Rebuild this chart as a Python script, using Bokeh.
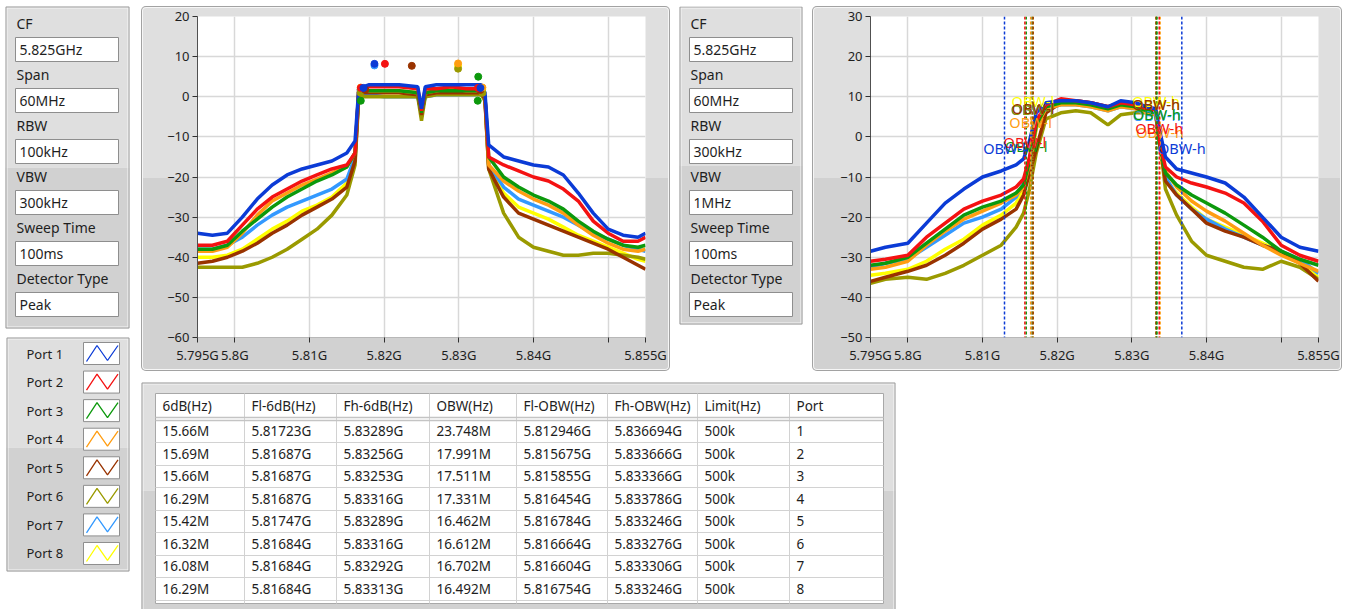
from bokeh.plotting import figure
from bokeh.models import Range1d, FixedTicker, Spacer, Span
from bokeh.layouts import row, column
from bokeh.core.properties import value
from bokeh.embed import file_html
from bokeh.resources import INLINE

FONT = "Noto Sans"
TXT = "#1e1e1e"
LIGHT = "#dfdfdf"
DARK = "#d1d1d1"

# ---------------- data ----------------
port_names = ["Port 1", "Port 2", "Port 3", "Port 4", "Port 5", "Port 6", "Port 7", "Port 8"]
port_colors = ["#0b3bd6", "#f41212", "#0c990c", "#ff9d12", "#993300", "#9a9a00", "#3399ff", "#ffff00"]

param_labels = ["CF", "Span", "RBW", "VBW", "Sweep Time", "Detector Type"]
params_left = ["5.825GHz", "60MHz", "100kHz", "300kHz", "100ms", "Peak"]
params_right = ["5.825GHz", "60MHz", "300kHz", "1MHz", "100ms", "Peak"]

xtick_vals = [5.795, 5.80, 5.81, 5.82, 5.83, 5.84, 5.85, 5.855]
xtick_labels = ["5.795G", "5.8G", "5.81G", "5.82G", "5.83G", "5.84G", "", "5.855G"]
xgrid_vals = [5.80, 5.81, 5.82, 5.83, 5.84, 5.85]
chart1_yticks = [-60, -50, -40, -30, -20, -10, 0, 10, 20]
chart2_yticks = [-50, -40, -30, -20, -10, 0, 10, 20, 30]

# chart 1 (RBW 100kHz) traces, GHz / dBm
f1 = [5.795, 5.797, 5.799, 5.801, 5.803, 5.805, 5.807, 5.809, 5.811, 5.813, 5.815, 5.8161,
      5.8166, 5.818, 5.820, 5.822, 5.8245, 5.8250, 5.8255, 5.827, 5.829, 5.831, 5.833, 5.8335,
      5.8340, 5.836, 5.838, 5.840, 5.842, 5.844, 5.846, 5.848, 5.850, 5.852, 5.854, 5.855]
c1_port1 = [-34, -34.5, -34, -30, -25.5, -22, -19.5, -18, -17, -16, -14, -11,
            2, 3, 3, 3, 2.5, -3, 2.5, 3, 3, 3, 3, 1,
            -12, -15, -16, -17, -17.5, -19.5, -24, -29, -33, -34.5, -35, -34]
c1_port2 = [-37, -37, -36, -32, -28, -25, -23, -21, -19.5, -18, -17, -14,
            2, 2.5, 2.5, 2.5, 2, -3.5, 2, 2, 2.5, 2, 2, 0,
            -15, -17, -18.5, -20, -21, -23, -26, -31, -34, -36, -36, -35]
c1_port3 = [-38, -38, -37, -33.5, -30.5, -27.5, -25, -23, -21, -19.5, -17.5, -14,
            1.5, 1.5, 1.5, 1.5, 1, -4, 1, 1.5, 1.5, 1.5, 1.5, 0,
            -15, -20, -22.5, -24.5, -26, -28, -31, -33.5, -35.5, -37, -37.5, -37]
c1_port4 = [-38.5, -38.5, -37.5, -34, -29.5, -26, -24, -22, -20.5, -19, -17.5, -14,
            1.5, 1.5, 1.5, 1.5, 1, -4, 1, 1.5, 2, 1.5, 1.5, 0,
            -17, -21, -23.5, -25.5, -27, -29, -32, -34.5, -36.5, -38, -38.5, -38]
c1_port5 = [-41.5, -41, -40, -38.5, -36.5, -34, -32, -29.5, -27.5, -25.5, -22.5, -16,
            1, 1, 1, 1, 0.5, -4.5, 0.5, 1, 1, 1, 1, -0.5,
            -18, -25, -29, -30.5, -32, -33.5, -35, -36.5, -38, -40, -42, -43]
c1_port6 = [-42.5, -42.5, -42.5, -42.5, -41.5, -40, -38, -35.5, -33, -29.5, -24.5, -17,
            0, 0, 0, 0, 0, -6, 0, 0.5, 0.5, 0.5, 0.5, -1,
            -18, -29, -35, -37.5, -38.5, -39.5, -39.5, -39, -39, -39.5, -40, -40.5]
c1_port7 = [-38, -38, -37, -35, -32, -29.5, -27.5, -26, -24.5, -23, -20.5, -15,
            0.5, 0.5, 0, 0, 0, -4.5, 0, 0.5, 0.5, 0.5, 0.5, -0.5,
            -17, -22.5, -25.5, -27, -28.5, -30, -32, -34, -35.5, -37, -38, -38.5]
c1_port8 = [-40, -40, -39.5, -38, -35.5, -33, -31, -28.5, -27, -25, -21.5, -15,
            1, 1, 1, 1, 0.5, -4.5, 0.5, 1, 1, 1, 1, 0,
            -17.5, -24, -27.5, -29, -30.5, -32.5, -34.5, -36, -37.5, -39, -40.5, -41]

# chart 1 peak markers
peak_freq = [5.8187, 5.8201, 5.8326, 5.8299, 5.8237, 5.8299, 5.8187, 5.8299]
peak_level = [8.2, 8.2, 5.0, 8.3, 7.7, 7.0, 7.8, 7.8]

# chart 2 (RBW 300kHz) traces
f2 = [5.795, 5.797, 5.800, 5.8025, 5.805, 5.8075, 5.810, 5.8125, 5.8145, 5.8155, 5.8163, 5.8172,
      5.8185, 5.8205, 5.8225, 5.8245, 5.8268, 5.8285, 5.8305, 5.832, 5.8332, 5.8338, 5.8345, 5.836,
      5.838, 5.840, 5.8425, 5.845, 5.8475, 5.850, 5.8525, 5.855]
c2_port1 = [-28.5, -27.5, -26.5, -21.5, -16.5, -13, -10, -8.5, -7, -5.5, -1, 6,
            8.5, 9, 9, 8.5, 7.5, 9, 8.5, 7.5, 7, 1, -5, -8,
            -9, -10, -11.5, -15, -20, -25, -27.5, -28.5]
c2_port2 = [-31, -30.5, -29.5, -25, -21.5, -18, -16, -14.5, -12.5, -10.5, -5, 4,
            8, 9.5, 9, 8.5, 7.5, 8.5, 8, 7, 6.5, -2, -7.5, -10,
            -11.5, -12.5, -14, -16.5, -21, -27, -29.5, -31]
c2_port3 = [-32, -31.5, -30, -26.5, -23, -19.5, -17.5, -16, -14, -12, -6, 3,
            7.5, 8.5, 8.5, 8, 7, 8, 7.5, 6.5, 6, -3, -9, -12,
            -14.5, -16.5, -19, -22, -25, -28.5, -30.5, -32]
c2_port4 = [-33, -32.5, -31, -27, -23.5, -20.5, -18.5, -16.5, -14.5, -12.5, -6.5, 2.5,
            7, 8, 8, 7.5, 6.5, 7.5, 7, 6, 5.5, -3, -8.5, -12.5,
            -16, -18.5, -21, -24, -27, -29.5, -31.5, -33.5]
c2_port5 = [-36, -35, -33.5, -32, -29.5, -26.5, -23, -20.5, -18, -14.5, -9, -3,
            6, 8.5, 9, 8.5, 7.5, 8, 8, 7, 6.5, -2, -11, -14.5,
            -18, -21.5, -23.5, -25, -27, -28.5, -31.5, -36]
c2_port6 = [-36.5, -35.5, -35, -35.5, -34, -32, -29.5, -27, -22.5, -19, -13, -4,
            4.5, 6, 6.5, 6, 3, 5.5, 6, 6, 5.5, -2, -13, -19.5,
            -26, -29.5, -31, -32.5, -33, -31, -32.5, -35.5]
c2_port7 = [-32.5, -31.5, -30.5, -27.5, -24.5, -21.5, -20, -18, -15, -11.5, -5.5, 2.5,
            7, 8, 8, 7.5, 6.5, 7.5, 7, 6, 5.5, -3, -10, -14.5,
            -18, -20.5, -23, -25, -27, -28.5, -30.5, -34]
c2_port8 = [-34.5, -34, -33, -31, -28, -25.5, -22, -19.5, -16.5, -13, -7.5, 2,
            7, 8.5, 8.5, 8, 7, 8, 7.5, 7, 6.5, -2.5, -11, -14,
            -17.5, -20.5, -22.5, -24.5, -26.5, -28.5, -31, -35]

# OBW label heights on chart 2 (dBm)
obw_l_level = [-2.7, -1.4, -2.2, 3.8, 7.3, 7.0, 7.0, 9.0]
obw_h_level = [-2.7, 2.1, 5.8, 1.1, 8.3, 8.3, 5.5, 9.0]

# results table
table_headers = ["6dB(Hz)", "Fl-6dB(Hz)", "Fh-6dB(Hz)", "OBW(Hz)", "Fl-OBW(Hz)", "Fh-OBW(Hz)", "Limit(Hz)", "Port"]
bw6 = ["15.66M", "15.69M", "15.66M", "16.29M", "15.42M", "16.32M", "16.08M", "16.29M"]
fl6 = ["5.81723G", "5.81687G", "5.81687G", "5.81687G", "5.81747G", "5.81684G", "5.81684G", "5.81684G"]
fh6 = ["5.83289G", "5.83256G", "5.83253G", "5.83316G", "5.83289G", "5.83316G", "5.83292G", "5.83313G"]
obw = ["23.748M", "17.991M", "17.511M", "17.331M", "16.462M", "16.612M", "16.702M", "16.492M"]
fl_obw = ["5.812946G", "5.815675G", "5.815855G", "5.816454G", "5.816784G", "5.816664G", "5.816604G", "5.816754G"]
fh_obw = ["5.836694G", "5.833666G", "5.833366G", "5.833786G", "5.833246G", "5.833276G", "5.833306G", "5.833246G"]
limit = ["500k"] * 8
port_no = ["1", "2", "3", "4", "5", "6", "7", "8"]

c1_series = [c1_port1, c1_port2, c1_port3, c1_port4, c1_port5, c1_port6, c1_port7, c1_port8]
c2_series = [c2_port1, c2_port2, c2_port3, c2_port4, c2_port5, c2_port6, c2_port7, c2_port8]
ghz = lambda s: float(s[:-1])


# ---------------- helpers ----------------
def canvas(w, h, x0, y0):
    p = figure(width=w, height=h, x_range=Range1d(x0, x0 + w), y_range=Range1d(y0 + h, y0),
               x_axis_location=None, y_axis_location=None, toolbar_location=None,
               output_backend="svg", min_border=0, outline_line_color=None,
               background_fill_color="white", border_fill_color="white")
    p.grid.visible = False
    return p


def panel(p, x0, x1, y0, y1, ys):
    p.quad(left=[x0], right=[x1], top=[y0], bottom=[ys], fill_color=LIGHT, line_color=None)
    p.quad(left=[x0], right=[x1], top=[ys], bottom=[y1], fill_color=DARK, line_color=None)
    p.quad(left=[x0 + 1.5], right=[x1 - 1.5], top=[y0 + 1.5], bottom=[y1 - 1.5],
           fill_color=None, line_color="#f6f6f6", line_width=1)
    p.quad(left=[x0 + 0.5], right=[x1 - 0.5], top=[y0 + 0.5], bottom=[y1 - 0.5],
           fill_color=None, line_color="#a2a2a2", line_width=1)


def params(p, x0, y0, x1, y1, values):
    panel(p, x0, x1, y0, y1, (y0 + y1) / 2)
    bx0, bx1 = x0 + 10, x0 + 113
    for i, (lab, val) in enumerate(zip(param_labels, values)):
        ty = y0 + 17 + 51 * i
        p.text(x=[x0 + 11], y=[ty], text=[lab], text_font=value(FONT), text_font_size="14px",
               text_baseline="middle", text_color=TXT)
        p.quad(left=[bx0], right=[bx1], top=[ty + 14], bottom=[ty + 38], fill_color="white",
               line_color="#8e8e8e", line_width=1)
        p.text(x=[bx0 + 4], y=[ty + 26], text=[val], text_font=value(FONT), text_font_size="14px",
               text_baseline="middle", text_color=TXT)


frame_css = {
    "background": "linear-gradient(to bottom, %s 0px, %s 172px, %s 172px, %s 100%%)" % (LIGHT, LIGHT, DARK, DARK),
    "border-radius": "5px",
    "box-shadow": "inset 0 0 0 1px #a2a2a2, inset 0 0 0 2px #f6f6f6",
}


def chart(width, lb, rb, y0, y1, yticks):
    p = figure(width=width, height=365, x_range=Range1d(5.795, 5.855), y_range=Range1d(y0, y1),
               toolbar_location=None, output_backend="svg",
               min_border_left=lb, min_border_right=rb, min_border_top=10, min_border_bottom=34,
               background_fill_color="white", border_fill_alpha=0, outline_line_color=None,
               styles=frame_css)
    p.xaxis.ticker = FixedTicker(ticks=xtick_vals)
    p.xaxis.major_label_overrides = dict(zip(xtick_vals, xtick_labels))
    p.yaxis.ticker = FixedTicker(ticks=yticks)
    p.xgrid.ticker = FixedTicker(ticks=xgrid_vals)
    p.ygrid.ticker = FixedTicker(ticks=yticks)
    p.grid.grid_line_color = "#d8d8d8"
    p.grid.grid_line_width = 1.5
    p.axis.major_label_text_font = FONT
    p.axis.major_label_text_font_size = "13px"
    p.axis.major_label_text_color = TXT
    p.axis.major_tick_in = 0
    p.axis.major_tick_out = 5
    p.axis.major_tick_line_color = "#303030"
    p.axis.minor_tick_line_color = None
    p.axis.major_label_standoff = 3
    p.xaxis.axis_line_color = "#b8b8b8"
    p.yaxis.axis_line_color = "#505050"
    return p


# ---------------- left column (settings + legend) ----------------
L = canvas(135, 609, 0, 0)
params(L, 5, 6, 129, 328, params_left)
panel(L, 6, 129, 337, 571, 447)
for i, (name, col) in enumerate(zip(port_names, port_colors)):
    cy = 353 + 28.57 * i
    L.text(x=[26], y=[cy], text=[name], text_font=value(FONT), text_font_size="13px",
           text_baseline="middle", text_color=TXT)
    L.quad(left=[83], right=[119], top=[cy - 11], bottom=[cy + 11], fill_color="white",
           line_color="#8e8e8e", line_width=1)
    L.line(x=[86, 96.5, 107, 117.5], y=[cy + 8, cy - 8, cy + 7, cy - 8], line_color=col, line_width=1.3)

# ---------------- chart 1 ----------------
c1 = chart(529, 56, 25, -60, 20, chart1_yticks)
for i in reversed(range(8)):
    c1.line(f1, c1_series[i], line_color=port_colors[i], line_width=3.5)
for i in reversed(range(8)):
    c1.scatter([peak_freq[i]], [peak_level[i]], size=7, color=port_colors[i])
    c1.scatter([ghz(fl6[i]), ghz(fh6[i])], [peak_level[i] - 6] * 2, size=7, color=port_colors[i])

# ---------------- settings panel 2 ----------------
P2 = canvas(142, 365, 670, 6)
params(P2, 679, 6, 802, 324, params_right)

# ---------------- chart 2 ----------------
c2 = chart(530, 58, 24, -50, 30, chart2_yticks)
for i in reversed(range(8)):
    c2.line(f2, c2_series[i], line_color=port_colors[i], line_width=3.5)
for i in reversed(range(8)):
    for f in (ghz(fl_obw[i]), ghz(fh_obw[i])):
        c2.add_layout(Span(location=f, dimension="height", line_color=port_colors[i],
                           line_dash="3 2", line_width=1.5))
for i in reversed(range(8)):
    c2.text(x=[ghz(fl_obw[i]), ghz(fh_obw[i])], y=[obw_l_level[i], obw_h_level[i]],
            text=["OBW-l", "OBW-h"], text_font=value(FONT), text_font_size="14.5px",
            text_align="center", text_baseline="middle", text_color=port_colors[i], level="overlay")

# ---------------- table ----------------
T = canvas(1216, 238, 135, 371)
panel(T, 141, 895, 382, 640, 490)
col_left = [155, 244, 336, 429, 516, 607, 697, 789]
T.quad(left=[155], right=[883], top=[393], bottom=[603], fill_color="white", line_color="#a8a8a8")
T.segment(x0=col_left[1:], y0=[393] * 7, x1=col_left[1:], y1=[603] * 7, line_color="#d2d2d2", line_width=1)
row_lines = [442, 465, 487, 510, 532, 555, 577, 600]
T.segment(x0=[155] * 8, y0=row_lines, x1=[883] * 8, y1=row_lines, line_color="#d2d2d2", line_width=1)
T.segment(x0=[155, 155], y0=[417, 420], x1=[883, 883], y1=[417, 420], line_color="#c4c4c4", line_width=1.5)
T.text(x=[c + 7 for c in col_left], y=[405] * 8, text=table_headers, text_font=value(FONT),
       text_font_size="13.5px", text_baseline="middle", text_color=TXT)
columns = [bw6, fl6, fh6, obw, fl_obw, fh_obw, limit, port_no]
for cl, vals in zip(col_left, columns):
    T.text(x=[cl + 7] * 8, y=[430.5 + 22.5 * r for r in range(8)], text=vals, text_font=value(FONT),
           text_font_size="13.5px", text_baseline="middle", text_color=TXT)

top = row(Spacer(width=6, height=365), c1, column(P2), c2, Spacer(width=9, height=365))
right = column(Spacer(width=1216, height=6), top, T)
root = row(L, right)

open("out.html", "w").write(file_html(root, INLINE))
